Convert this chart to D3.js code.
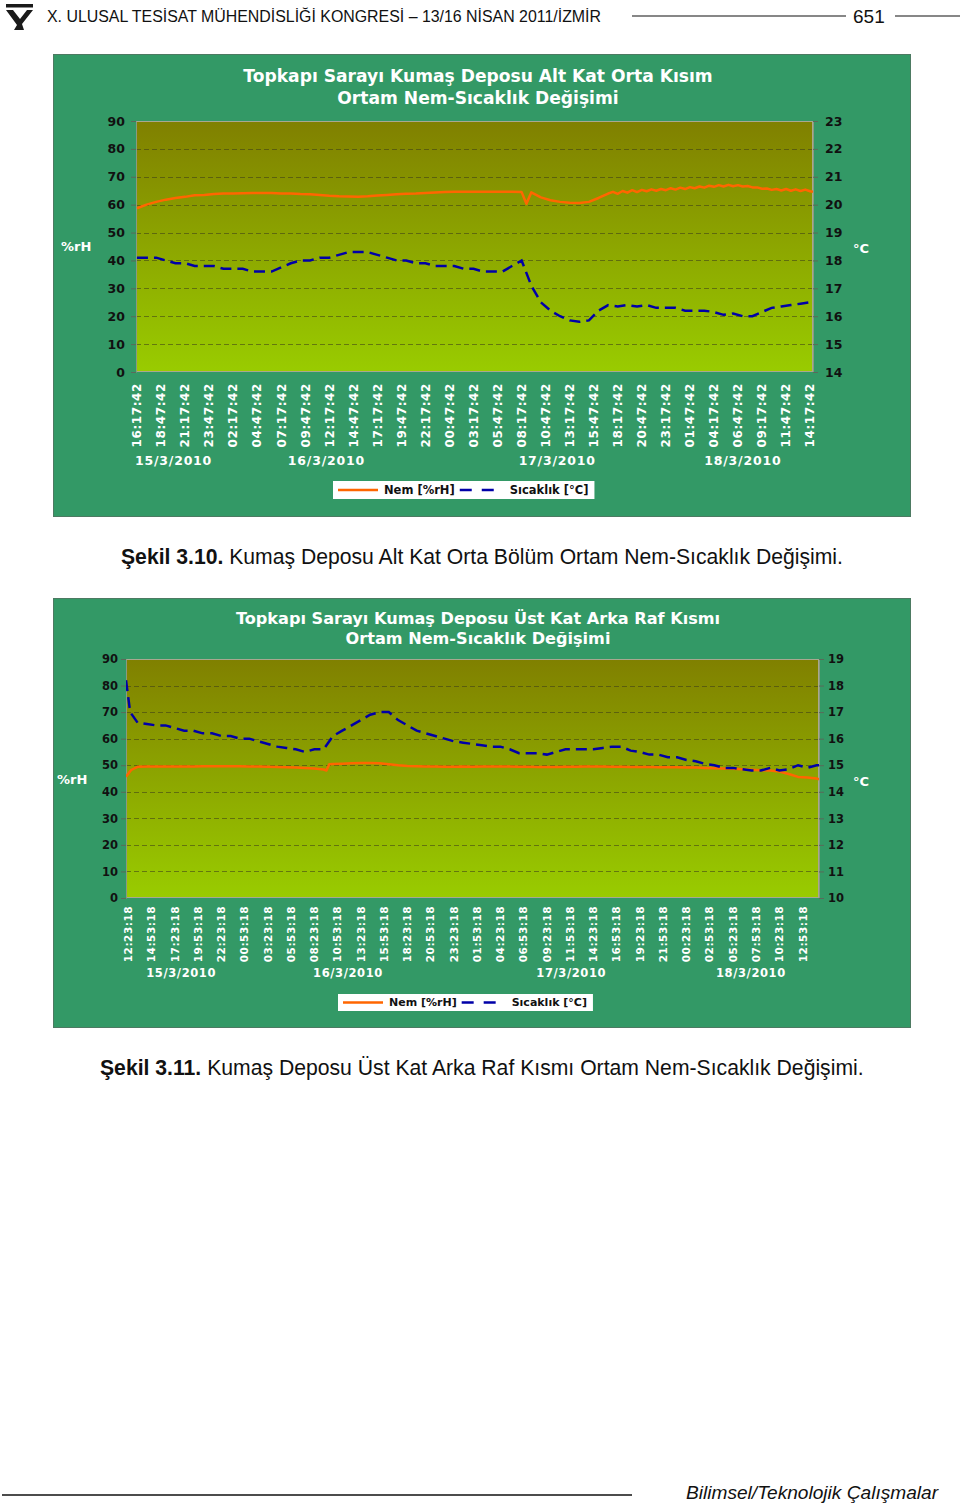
<!DOCTYPE html>
<html><head><meta charset="utf-8">
<script src="https://cdn.jsdelivr.net/npm/d3@7"></script>
<style>body{margin:0;background:#fff;} svg{display:block;}</style>
</head><body>
<svg id="page" width="960" height="1507"></svg>
<script>
// ---------------- DATA ----------------
const headerText = "X. ULUSAL TESİSAT MÜHENDİSLİĞİ KONGRESİ – 13/16 NİSAN 2011/İZMİR";
const pageNumber = "651";
const footerText = "Bilimsel/Teknolojik Çalışmalar";
const seriesNames = ["Nem [%rH]", "Sıcaklık [°C]"];

// Chart 1
const c1Title = ["Topkapı Sarayı Kumaş Deposu Alt Kat Orta Kısım", "Ortam Nem-Sıcaklık Değişimi"];
const c1Caption = ["Şekil 3.10.", " Kumaş Deposu Alt Kat Orta Bölüm Ortam Nem-Sıcaklık Değişimi."];
const c1Start = "16:17:42";
const c1Dates = ["15/3/2010", "16/3/2010", "17/3/2010", "18/3/2010"];
const c1TickLabels = ["16:17:42","18:47:42","21:17:42","23:47:42","02:17:42","04:47:42","07:17:42","09:47:42","12:17:42","14:47:42","17:17:42","19:47:42","22:17:42","00:47:42","03:17:42","05:47:42","08:17:42","10:47:42","13:17:42","15:47:42","18:17:42","20:47:42","23:17:42","01:47:42","04:17:42","06:47:42","09:17:42","11:47:42","14:17:42"];
const c1LeftTicks = [0,10,20,30,40,50,60,70,80,90];
const c1RightTicks = [14,15,16,17,18,19,20,21,22,23];
// hours since first reading / relative humidity %
const c1NemHours = [0,1,2,3,4,5,6,7,8,9,10,11,12,13,14,15,16,17,18,19,20,21,22,23,24,25,26,27,28,29,30,31,32,33,34,35,36,37,38,39,40,40.5,41,42,43,44,45,46,47,48,49,
  49.5,50,50.5,51,51.5,52,52.5,53,53.5,54,54.5,55,55.5,56,56.5,57,57.5,58,58.5,59,59.5,60,60.5,61,61.5,62,62.5,63,63.5,64,64.5,65,65.5,66,66.5,67,67.5,68,68.5,69,69.5,70,70.3];
const c1Nem = [58.7,60,61,61.8,62.4,62.8,63.4,63.5,63.8,64,64,64.1,64.2,64.2,64.2,64,64,63.8,63.7,63.5,63.2,63,62.9,62.8,63,63.3,63.5,63.7,63.9,64,64.2,64.4,64.5,64.6,64.6,64.6,64.6,64.6,64.6,64.6,64.5,60.3,64.4,62.6,61.6,61,60.7,60.6,61,62.4,64,
  64.6,63.9,64.9,64.3,65.2,64.5,65.3,64.8,65.5,65,65.6,65.2,65.9,65.4,66.1,65.6,66.3,65.9,66.5,66.1,66.8,66.4,67,66.5,67.1,66.6,67,66.5,66.7,66.2,66.2,65.7,65.8,65.3,65.6,65.1,65.6,65,65.5,64.9,65.4,64.8,64.6];
// hours since first reading / temperature °C
const c1SicHours = [0,1,2,3,4,5,6,7,8,9,10,11,12,13,14,15,16,17,18,19,20,21,22,23,24,25,26,27,28,29,30,31,32,33,34,35,36,37,38,39,40,41,42,43,44,45,46,47,48,49,50,51,52,53,54,55,56,57,58,59,60,61,62,63,64,65,66,67,68,69,70,70.3];
const c1Sicaklik = [18.1,18.1,18.1,18.0,17.9,17.9,17.8,17.8,17.8,17.7,17.7,17.7,17.6,17.6,17.6,17.75,17.9,18.0,18.0,18.1,18.1,18.2,18.3,18.3,18.3,18.2,18.1,18.0,18.0,17.9,17.9,17.8,17.8,17.8,17.7,17.7,17.6,17.6,17.6,17.8,18.0,17.1,16.5,16.2,16.0,15.85,15.8,15.85,16.2,16.4,16.35,16.4,16.35,16.4,16.3,16.3,16.3,16.2,16.2,16.2,16.15,16.05,16.1,16.0,16.0,16.15,16.3,16.35,16.4,16.45,16.5,16.5];

// Chart 2
const c2Title = ["Topkapı Sarayı Kumaş Deposu Üst Kat Arka Raf Kısmı", "Ortam Nem-Sıcaklık Değişimi"];
const c2Caption = ["Şekil 3.11.", " Kumaş Deposu Üst Kat Arka Raf Kısmı Ortam Nem-Sıcaklık Değişimi."];
const c2Start = "12:23:18";
const c2Dates = ["15/3/2010", "16/3/2010", "17/3/2010", "18/3/2010"];
const c2TickLabels = ["12:23:18","14:53:18","17:23:18","19:53:18","22:23:18","00:53:18","03:23:18","05:53:18","08:23:18","10:53:18","13:23:18","15:53:18","18:23:18","20:53:18","23:23:18","01:53:18","04:23:18","06:53:18","09:23:18","11:53:18","14:23:18","16:53:18","19:23:18","21:53:18","00:23:18","02:53:18","05:23:18","07:53:18","10:23:18","12:53:18"];
const c2LeftTicks = [0,10,20,30,40,50,60,70,80,90];
const c2RightTicks = [10,11,12,13,14,15,16,17,18,19];
const c2NemHours = [-0.25,0.3,1,2,3,4,5,6,7,8,9,10,11,12,13,14,15,16,17,18,19,20,21,21.3,21.6,22,23,24,25,26,27,28,29,30,31,32,33,34,35,36,37,38,39,40,41,42,43,44,45,46,47,48,49,50,51,52,53,54,55,56,57,58,59,60,61,62,63,64,65,66,67,68,69,70,71,72,73,74,74.25];
const c2Nem = [45.7,48.2,49.4,49.5,49.5,49.5,49.5,49.5,49.5,49.6,49.6,49.6,49.6,49.6,49.5,49.5,49.4,49.3,49.2,49.1,49.0,48.8,48.4,48.0,50.4,50.5,50.6,50.7,50.8,50.8,50.7,50.4,50.0,49.7,49.6,49.5,49.5,49.4,49.4,49.5,49.4,49.5,49.5,49.5,49.5,49.4,49.4,49.3,49.3,49.3,49.4,49.4,49.5,49.5,49.5,49.4,49.4,49.3,49.3,49.3,49.2,49.2,49.2,49.1,49.1,49.0,48.9,48.8,48.7,48.5,48.3,48.1,48.0,47.6,46.7,45.6,45.4,45.0,44.7,44.5];
const c2SicHours = [-0.25,0.2,1,2,3,4,5,6,7,8,9,10,11,12,13,14,15,16,17,18,19,20,21,22,23,24,25,26,27,28,29,30,31,32,33,34,35,36,37,38,39,40,41,42,43,44,45,46,47,48,49,50,51,52,53,54,55,56,57,58,59,60,61,62,63,64,65,66,67,68,69,70,71,72,73,74,74.25];
const c2Sicaklik = [18.2,17.0,16.6,16.55,16.5,16.5,16.4,16.3,16.3,16.2,16.2,16.1,16.1,16.0,16.0,15.9,15.8,15.7,15.65,15.6,15.5,15.6,15.6,16.1,16.3,16.5,16.7,16.9,17.0,17.0,16.7,16.5,16.3,16.2,16.1,16.0,15.9,15.85,15.8,15.75,15.7,15.7,15.6,15.45,15.45,15.45,15.4,15.5,15.6,15.6,15.6,15.6,15.65,15.7,15.7,15.55,15.5,15.4,15.4,15.3,15.3,15.2,15.15,15.05,15.0,14.9,14.9,14.85,14.8,14.8,14.9,14.8,14.85,15.0,14.9,15.0,15.0];

// ---------------- DRAWING ----------------
const svg = d3.select("#page");
const ARIAL = "'Liberation Sans', Arial, sans-serif";
const VERD = "'DejaVu Sans', Verdana, sans-serif";
const NEM_COLOR = "#ff6600", SIC_COLOR = "#0000a8";

function fitWidth(sel, target) {
  const w = sel.node().getComputedTextLength();
  const fs = parseFloat(sel.attr("font-size"));
  sel.attr("font-size", (fs * target / w).toFixed(2));
  return fs * target / w;
}
function clockHours(s) { const p = s.split(":").map(Number); return p[0] + p[1]/60 + p[2]/3600; }

// header
const logo = svg.append("g").attr("fill", "#1a1a1a");
logo.append("rect").attr("x", 6).attr("y", 4).attr("width", 27).attr("height", 3.5);
logo.append("path").attr("d", "M6,10 L13,10 L20,19 L27,10 L33,10 L22,24 L24,30 L14,30 L17,25 Z");
logo.append("circle").attr("cx", 20).attr("cy", 13).attr("r", 2.2).attr("fill", "#fff");
svg.append("text").attr("x", 47).attr("y", 22).attr("font-family", ARIAL).attr("font-size", 16)
  .attr("textLength", 554).attr("lengthAdjust", "spacingAndGlyphs").attr("fill", "#111").text(headerText);
svg.append("line").attr("x1", 632).attr("x2", 846).attr("y1", 16).attr("y2", 16).attr("stroke", "#111").attr("stroke-width", 1.2);
svg.append("text").attr("x", 853).attr("y", 23).attr("font-family", ARIAL).attr("font-size", 19).attr("fill", "#111").text(pageNumber);
svg.append("line").attr("x1", 895).attr("x2", 960).attr("y1", 16).attr("y2", 16).attr("stroke", "#111").attr("stroke-width", 1.2);

// footer
svg.append("line").attr("x1", 2).attr("x2", 632).attr("y1", 1495).attr("y2", 1495).attr("stroke", "#111").attr("stroke-width", 1.5);
const ft = svg.append("text").attr("x", 686).attr("y", 1499).attr("font-family", ARIAL).attr("font-style", "italic")
  .attr("font-size", 19).attr("fill", "#111").text(footerText);
fitWidth(ft, 252);

// gradient
const defs = svg.append("defs");
const grad = defs.append("linearGradient").attr("id", "plotGrad").attr("x1", 0).attr("y1", 0).attr("x2", 0).attr("y2", 1);
grad.append("stop").attr("offset", "0%").attr("stop-color", "#808000");
grad.append("stop").attr("offset", "100%").attr("stop-color", "#99cc00");

function drawChart(cfg) {
  const g = svg.append("g");
  const B = cfg.box, P = cfg.plot;
  g.append("rect").attr("x", B.x + 0.5).attr("y", B.y + 0.5).attr("width", B.w).attr("height", B.h)
    .attr("fill", "#339966").attr("stroke", "#4d7a62").attr("stroke-width", 1);

  const x = d3.scaleLinear().domain(cfg.domain).range([P.l, P.r]);
  const yL = d3.scaleLinear().domain([0, 90]).range([P.b, P.t]);
  const yR = d3.scaleLinear().domain([cfg.rightTicks[0], cfg.rightTicks[cfg.rightTicks.length - 1]]).range([P.b, P.t]);

  g.append("rect").attr("x", P.l).attr("y", P.t).attr("width", P.r - P.l).attr("height", P.b - P.t)
    .attr("fill", "url(#plotGrad)");
  // grid
  g.append("g").selectAll("line").data(cfg.leftTicks.filter(v => v > 0 && v < 90)).join("line")
    .attr("x1", P.l).attr("x2", P.r).attr("y1", d => Math.round(yL(d)) + 0.5).attr("y2", d => Math.round(yL(d)) + 0.5)
    .attr("stroke", "#3a3a1a").attr("stroke-opacity", 0.55).attr("stroke-dasharray", "5,3").attr("stroke-width", 1);
  g.append("rect").attr("x", P.l + 0.5).attr("y", P.t + 0.5).attr("width", P.r - P.l - 1).attr("height", P.b - P.t - 1)
    .attr("fill", "none").attr("stroke", "#a8a890").attr("stroke-width", 1);

  // axes
  const axL = g.append("g").attr("transform", `translate(${P.l},0)`)
    .call(d3.axisLeft(yL).tickValues(cfg.leftTicks).tickSize(5).tickSizeOuter(0).tickPadding(cfg.padL));
  const axR = g.append("g").attr("transform", `translate(${P.r},0)`)
    .call(d3.axisRight(yR).tickValues(cfg.rightTicks).tickSize(5).tickSizeOuter(0).tickPadding(cfg.padR));
  [axL, axR].forEach(a => {
    a.select(".domain").attr("stroke", "#8a9a80");
    a.selectAll(".tick line").attr("stroke", "#5a6a5a");
    a.selectAll(".tick text").attr("font-family", VERD).attr("font-weight", "bold")
      .attr("font-size", cfg.numSize).attr("fill", "#111");
  });

  // lines
  const nemData = cfg.nemHours.map((h, i) => [h, cfg.nem[i]]);
  const sicData = cfg.sicHours.map((h, i) => [h, cfg.sic[i]]);
  const clip = "clip" + cfg.id;
  defs.append("clipPath").attr("id", clip).append("rect")
    .attr("x", P.l).attr("y", P.t - 5).attr("width", P.r - P.l).attr("height", P.b - P.t + 10);
  const lines = g.append("g").attr("clip-path", `url(#${clip})`);
  lines.append("path").datum(nemData)
    .attr("d", d3.line().x(d => x(d[0])).y(d => yL(d[1])))
    .attr("fill", "none").attr("stroke", NEM_COLOR).attr("stroke-width", 2.5).attr("stroke-linejoin", "round");
  lines.append("path").datum(sicData)
    .attr("d", d3.line().x(d => x(d[0])).y(d => yR(d[1])))
    .attr("fill", "none").attr("stroke", SIC_COLOR).attr("stroke-width", 2.5).attr("stroke-dasharray", "11,6");

  // x tick labels
  g.append("g").selectAll("text").data(cfg.tickLabels).join("text")
    .attr("transform", (d, i) => `translate(${x(i * 2.5)},${cfg.tickTop}) rotate(-90)`)
    .attr("text-anchor", "end").attr("dy", "0.36em")
    .attr("font-family", VERD).attr("font-weight", "bold").attr("font-size", cfg.tickSize).attr("fill", "#fff")
    .attr("letter-spacing", cfg.tickSpacing)
    .text(d => d);

  // date labels: centred on each day's span in the domain
  const start = clockHours(cfg.start);
  g.append("g").selectAll("text").data(cfg.dates).join("text")
    .attr("x", (d, i) => {
      const a = Math.max(cfg.domain[0], i * 24 - start);
      const b = Math.min(cfg.domain[1], (i + 1) * 24 - start);
      return x((a + b) / 2);
    })
    .attr("y", cfg.dateY).attr("text-anchor", "middle")
    .attr("font-family", VERD).attr("font-weight", "bold").attr("font-size", cfg.dateSize).attr("fill", "#fff")
    .attr("letter-spacing", cfg.dateSpacing)
    .text(d => d);

  // title
  const t1 = g.append("text").attr("x", cfg.titleX).attr("y", cfg.titleY[0]).attr("text-anchor", "middle")
    .attr("font-family", VERD).attr("font-weight", "bold").attr("font-size", 17).attr("fill", "#fff").text(cfg.title[0]);
  const fs = fitWidth(t1, cfg.titleW);
  g.append("text").attr("x", cfg.titleX).attr("y", cfg.titleY[1]).attr("text-anchor", "middle")
    .attr("font-family", VERD).attr("font-weight", "bold").attr("font-size", fs.toFixed(2)).attr("fill", "#fff").text(cfg.title[1]);

  // axis titles
  g.append("text").attr("x", cfg.rhX).attr("y", cfg.rhY).attr("dy", "0.35em")
    .attr("font-family", VERD).attr("font-weight", "bold").attr("font-size", 13).attr("fill", "#fff").text("%rH");
  g.append("text").attr("x", 853).attr("y", cfg.cY).attr("dy", "0.35em")
    .attr("font-family", VERD).attr("font-weight", "bold").attr("font-size", 13).attr("fill", "#fff").text("°C");

  // legend
  const L = cfg.legend;
  const lg = g.append("g");
  const lbox = lg.append("rect").attr("x", L.x).attr("y", L.y).attr("height", L.h).attr("fill", "#fff");
  const cy = L.y + L.h / 2;
  let cx = L.x + 5;
  lg.append("line").attr("x1", cx).attr("x2", cx + 40).attr("y1", cy).attr("y2", cy)
    .attr("stroke", NEM_COLOR).attr("stroke-width", 2.5);
  cx += 46;
  const lt1 = lg.append("text").attr("x", cx).attr("y", cy).attr("dy", "0.36em")
    .attr("font-family", VERD).attr("font-weight", "bold").attr("font-size", L.fs).attr("fill", "#111").text(seriesNames[0]);
  cx += lt1.node().getComputedTextLength() + 5;
  lg.append("line").attr("x1", cx).attr("x2", cx + 40).attr("y1", cy).attr("y2", cy)
    .attr("stroke", SIC_COLOR).attr("stroke-width", 2.5).attr("stroke-dasharray", "12,10");
  cx += 50;
  const lt2 = lg.append("text").attr("x", cx).attr("y", cy).attr("dy", "0.36em")
    .attr("font-family", VERD).attr("font-weight", "bold").attr("font-size", L.fs).attr("fill", "#111").text(seriesNames[1]);
  cx += lt2.node().getComputedTextLength() + 6;
  lbox.attr("width", cx - L.x);

  // caption
  const cap = svg.append("text").attr("x", cfg.capX).attr("y", cfg.capY)
    .attr("font-family", ARIAL).attr("font-size", 20).attr("fill", "#111");
  cap.append("tspan").attr("font-weight", "bold").text(cfg.caption[0]);
  cap.append("tspan").text(cfg.caption[1]);
  fitWidth(cap, cfg.capW);
}

drawChart({
  id: 1, box: {x: 53, y: 54, w: 857, h: 462}, plot: {l: 136, t: 121, r: 813, b: 372},
  domain: [-0.1, 70.3], leftTicks: c1LeftTicks, rightTicks: c1RightTicks, padL: 6, padR: 7, numSize: 12.5,
  nemHours: c1NemHours, nem: c1Nem, sicHours: c1SicHours, sic: c1Sicaklik,
  tickLabels: c1TickLabels, tickTop: 383, tickSize: 12, tickSpacing: 0.6,
  start: c1Start, dates: c1Dates, dateY: 465, dateSize: 12.5, dateSpacing: 0.8,
  title: c1Title, titleX: 478, titleY: [82, 104], titleW: 470,
  rhX: 61, rhY: 246, cY: 248,
  legend: {x: 333, y: 481, h: 18, fs: 11.5},
  caption: c1Caption, capX: 121, capY: 564, capW: 722
});
drawChart({
  id: 2, box: {x: 53, y: 598, w: 857, h: 429}, plot: {l: 126, t: 659, r: 819, b: 898},
  domain: [-0.25, 74.25], leftTicks: c2LeftTicks, rightTicks: c2RightTicks, padL: 3, padR: 4, numSize: 11.5,
  nemHours: c2NemHours, nem: c2Nem, sicHours: c2SicHours, sic: c2Sicaklik,
  tickLabels: c2TickLabels, tickTop: 906, tickSize: 10.5, tickSpacing: 0.5,
  start: c2Start, dates: c2Dates, dateY: 977, dateSize: 11.5, dateSpacing: 0.6,
  title: c2Title, titleX: 478, titleY: [624, 644], titleW: 485,
  rhX: 57, rhY: 779, cY: 781,
  legend: {x: 338, y: 994, h: 17, fs: 11},
  caption: c2Caption, capX: 100, capY: 1075, capW: 764
});
</script>
</body></html>
